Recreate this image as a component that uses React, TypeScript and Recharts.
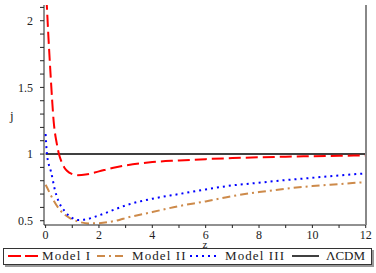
import { LineChart, Line, XAxis, YAxis } from 'recharts'

const zModel1 = [0, 0.05, 0.1, 0.15, 0.2, 0.25, 0.3, 0.35, 0.4, 0.5, 0.6, 0.7, 0.8, 1, 1.2, 1.5, 2, 2.5, 3, 4, 5, 6, 7, 8, 9, 10, 11, 12]
const jModel1 = [2.3, 2.1, 1.9, 1.72, 1.55, 1.39, 1.25, 1.16, 1.1, 1.0, 0.94, 0.9, 0.875, 0.85, 0.842, 0.846, 0.87, 0.895, 0.915, 0.94, 0.952, 0.962, 0.97, 0.976, 0.98, 0.984, 0.987, 0.99]

const zModel2 = [0, 0.04, 0.29, 0.54, 0.91, 1.2, 1.66, 2, 2.79, 3, 4, 5, 6, 7, 8, 9, 10, 11, 12]
const jModel2 = [0.77, 0.755, 0.655, 0.58, 0.52, 0.495, 0.48, 0.482, 0.508, 0.52, 0.565, 0.61, 0.645, 0.685, 0.715, 0.74, 0.76, 0.775, 0.79]

const zModel3 = [0, 0.05, 0.1, 0.2, 0.35, 0.5, 0.7, 1, 1.2, 1.5, 2, 2.66, 3, 4, 5, 6, 7, 8, 9, 10, 11, 12]
const jModel3 = [1.15, 1.0, 0.94, 0.87, 0.73, 0.64, 0.575, 0.52, 0.505, 0.51, 0.54, 0.59, 0.615, 0.665, 0.7, 0.735, 0.765, 0.785, 0.805, 0.822, 0.84, 0.855]

const zLcdm = [0, 12]
const jLcdm = [1, 1]

const xTicks = [0, 1, 2, 3, 4, 5, 6, 7, 8, 9, 10, 11, 12]
const yTicks = [0.5, 0.6, 0.7, 0.8, 0.9, 1, 1.1, 1.2, 1.3, 1.4, 1.5, 1.6, 1.7, 1.8, 1.9, 2, 2.1]
const yLabels = [0.5, 1, 1.5, 2]

const toData = (zs: number[], js: number[]) => zs.map((z, i) => ({ z, j: js[i] }))

const font = '"Liberation Serif", "DejaVu Serif", serif'
const tickStyle = { fontSize: 12, fill: '#222', fontFamily: font }

function Sample({ left, w, color, dash, width = 2 }: { left: number; w: number; color: string; dash?: string; width?: number }) {
  return (
    <svg width={w} height={6} style={{ position: 'absolute', left, top: 4 }}>
      <line x1={0} y1={3} x2={w} y2={3} stroke={color} strokeWidth={width} strokeDasharray={dash} />
    </svg>
  )
}

function Label({ left, text }: { left: number; text: string }) {
  return <span style={{ position: 'absolute', left, top: -1, letterSpacing: 1.1 }}>{text}</span>
}

export default function App() {
  return (
    <div style={{ position: 'absolute', left: 0, top: 0, width: 376, height: 273, background: '#fff' }}>
      <LineChart width={376} height={273} margin={{ top: 5, right: 9, left: 8, bottom: 28 }}>
        <XAxis
          xAxisId="b"
          type="number"
          dataKey="z"
          domain={[-0.06, 12.01]}
          ticks={xTicks}
          tickFormatter={(v) => (v % 2 === 0 ? String(v) : '')}
          tick={tickStyle}
          tickSize={3}
          tickMargin={2}
          height={20}
          stroke="#222"
          allowDataOverflow
          label={{ value: 'z', position: 'insideBottom', offset: -3, style: { fontSize: 11, fill: '#222', fontFamily: font } }}
        />
        <XAxis xAxisId="t" orientation="top" type="number" dataKey="z" domain={[-0.06, 12.01]} tick={false} tickLine={false} height={0} stroke="#222" />
        <YAxis
          yAxisId="l"
          type="number"
          domain={[0.468, 2.118]}
          ticks={yTicks}
          tickFormatter={(v) => (yLabels.some((l) => Math.abs(l - v) < 1e-6) ? String(v) : '')}
          tick={tickStyle}
          tickSize={4}
          tickMargin={7}
          width={36}
          stroke="#222"
          allowDataOverflow
          label={{ value: 'j', position: 'insideLeft', offset: 2, style: { fontSize: 13, fill: '#222', fontFamily: font } }}
        />
        <YAxis yAxisId="r" orientation="right" domain={[0.468, 2.118]} tick={false} tickLine={false} width={1} stroke="#888" strokeWidth={2} />
        <Line xAxisId="b" yAxisId="l" data={toData(zLcdm, jLcdm)} dataKey="j" type="linear" stroke="#000" strokeWidth={1.5} dot={false} isAnimationActive={false} />
        <Line xAxisId="b" yAxisId="l" data={toData(zModel2, jModel2)} dataKey="j" type="monotone" stroke="#cd8a4a" strokeWidth={2} strokeDasharray="8 4 2 4" dot={false} isAnimationActive={false} />
        <Line xAxisId="b" yAxisId="l" data={toData(zModel3, jModel3)} dataKey="j" type="monotone" stroke="#0000ff" strokeWidth={2} strokeDasharray="2 4" dot={false} isAnimationActive={false} />
        <Line xAxisId="b" yAxisId="l" data={toData(zModel1, jModel1)} dataKey="j" type="monotone" stroke="#ff0000" strokeWidth={2} strokeDasharray="12 5" dot={false} isAnimationActive={false} />
      </LineChart>
      <div
        style={{
          position: 'absolute',
          left: 3,
          top: 248,
          width: 369,
          height: 17,
          border: '1px solid #333',
          boxShadow: '2px 2px 0 #999',
          fontFamily: font,
          fontSize: 13,
          lineHeight: '16px',
          color: '#222',
          boxSizing: 'border-box',
          whiteSpace: 'nowrap',
        }}
      >
        <Sample left={4} w={30} color="#ff0000" dash="13 4" />
        <Label left={38} text="Model I" />
        <Sample left={93} w={30} color="#cd8a4a" dash="8 4 2 4" />
        <Label left={128} text="Model II" />
        <Sample left={186} w={30} color="#0000ff" dash="2 4" />
        <Label left={221} text="Model III" />
        <Sample left={288} w={27} color="#000" width={1.5} />
        <span style={{ position: 'absolute', left: 322, top: -1 }}>ΛCDM</span>
      </div>
    </div>
  )
}
